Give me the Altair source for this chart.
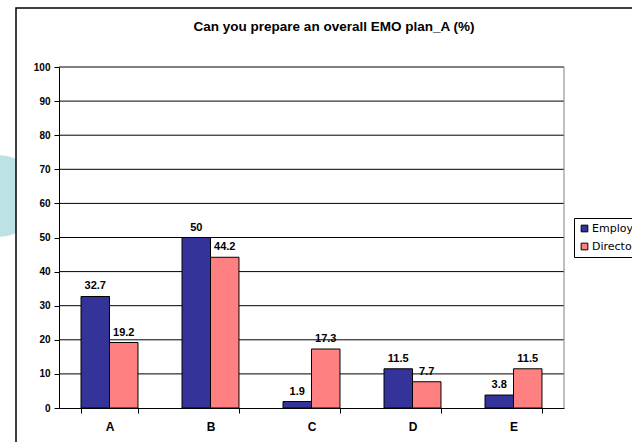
import altair as alt
import pandas as pd

# Survey answers (%) per option, for each respondent group
categories = ["A", "B", "C", "D", "E"]
series_names = ["Employees", "Directors"]
employees = [32.7, 50, 1.9, 11.5, 3.8]
directors = [19.2, 44.2, 17.3, 7.7, 11.5]
y_ticks = [0, 10, 20, 30, 40, 50, 60, 70, 80, 90, 100]
title_text = "Can you prepare an overall EMO plan_A  (%)"
colors = ["#333399", "#FF8080"]

rows = []
for cat, e, d in zip(categories, employees, directors):
    rows.append({"option": cat, "group": series_names[0], "pct": e})
    rows.append({"option": cat, "group": series_names[1], "pct": d})
df = pd.DataFrame(rows)
grid_df = pd.DataFrame({"v": y_ticks[1:]})
one = pd.DataFrame({"t": [title_text]})

W, H = 505, 341
FONT = "Liberation Sans"

x_scale = alt.Scale(domain=categories, paddingInner=0.436, paddingOuter=0.218)
x_axis = alt.Axis(title=None, labelAngle=0, labelFontWeight="bold",
                  labelFontSize=12, labelFont=FONT, labelColor="black",
                  labelPadding=8, tickBand="extent", tickSize=5,
                  tickColor="black", domainColor="black", zindex=1)
y_scale = alt.Scale(domain=[0, 100], nice=False)
y_axis = alt.Axis(title=None, values=y_ticks, grid=False, labelOverlap=False,
                  labelFontWeight="bold", labelFontSize=10,
                  labelFont=FONT, labelColor="black", labelPadding=4,
                  tickSize=5, tickColor="black", domainColor="black", zindex=1)
off_scale = alt.Scale(domain=series_names, paddingInner=0, paddingOuter=0)

# light teal disc peeking in from the left edge
disc = alt.Chart(one).mark_point(filled=True, shape="circle", opacity=1,
                                 color="#BDE2E6").encode(
    x=alt.value(-60), y=alt.value(129), size=alt.value(6650))

# white chart frame
frame = alt.Chart(one).mark_rect(fill="white", stroke="black",
                                 strokeWidth=1.5).encode(
    x=alt.value(-43), x2=alt.value(640), y=alt.value(-59), y2=alt.value(390))

grid = alt.Chart(grid_df).mark_rule(color="black", strokeWidth=1).encode(
    y=alt.Y("v:Q", scale=y_scale, axis=y_axis))

right_edge = alt.Chart(one).mark_rule(color="#808080", strokeWidth=1).encode(
    x=alt.value(W), y=alt.value(0), y2=alt.value(H))

bars = alt.Chart(df).mark_bar(stroke="black", strokeWidth=1).encode(
    x=alt.X("option:N", sort=categories, scale=x_scale, axis=x_axis),
    xOffset=alt.XOffset("group:N", sort=series_names, scale=off_scale),
    y=alt.Y("pct:Q", scale=y_scale, axis=y_axis),
    color=alt.Color("group:N", sort=series_names,
                    scale=alt.Scale(domain=series_names, range=colors),
                    legend=alt.Legend(title=None, orient="none",
                                      legendX=515, legendY=151,
                                      fillColor="white", strokeColor="black",
                                      padding=5, rowPadding=6,
                                      symbolType="square", symbolSize=45,
                                      symbolStrokeColor="black",
                                      symbolStrokeWidth=1,
                                      symbolOpacity=1,
                                      labelFont="DejaVu Sans", labelFontSize=11,
                                      labelColor="black", labelOffset=2,
                                      zindex=1)),
)

labels = alt.Chart(df).mark_text(fontWeight="bold", fontSize=11, font=FONT,
                                 color="black", baseline="alphabetic",
                                 dy=-7).encode(
    x=alt.X("option:N", sort=categories, scale=x_scale, axis=x_axis),
    xOffset=alt.XOffset("group:N", sort=series_names, scale=off_scale),
    y=alt.Y("pct:Q", scale=y_scale, axis=y_axis),
    text=alt.Text("pct:Q"),
)

title = alt.Chart(one).mark_text(fontWeight="bold", fontSize=13.5, font=FONT,
                                 color="black", baseline="alphabetic").encode(
    x=alt.value(275), y=alt.value(-36), text="t:N")

chart = alt.layer(disc, frame, grid, right_edge, bars, labels, title).properties(
    width=W, height=H,
    autosize=alt.AutoSizeParams(type="none"),
    padding={"left": 59, "top": 67, "right": 68, "bottom": 34},
).configure_view(stroke=None).configure(background="white")

chart.save("out.html", embed_options={"renderer": "svg", "actions": False})
